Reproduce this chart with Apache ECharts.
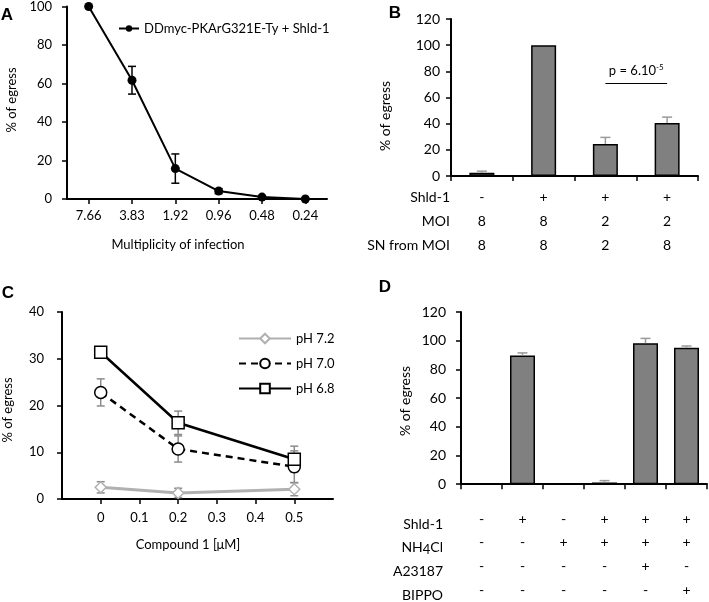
<!DOCTYPE html>
<html><head><meta charset="utf-8">
<script src="https://cdn.jsdelivr.net/npm/echarts@6/dist/echarts.min.js"></script>
<style>html,body{margin:0;padding:0;background:#fff}#c{width:709px;height:602px}</style>
</head><body><div id="c"></div>
<script>
// ---- Panel A data ----
const aCategories = ['7.66', '3.83', '1.92', '0.96', '0.48', '0.24'];
const aValues = [100, 61.7, 15.8, 4.1, 1.0, 0];
const aErrors = [0, 7.2, 7.6, 1.3, 0.6, 0];
const aYTicks = [0, 20, 40, 60, 80, 100];
const aSeriesName = 'DDmyc-PKArG321E-Ty + Shld-1';
// ---- Panel B data ----
const bCategories = ['c1', 'c2', 'c3', 'c4'];
const bValues = [2.5, 100, 24.5, 40.5];
const bErrors = [1.2, 0, 5, 4.5];
const bRowNames = ['Shld-1', 'MOI', 'SN from MOI'];
const bShld = ['-', '+', '+', '+'];
const bMOI = ['8', '8', '2', '2'];
const bSN = ['8', '8', '2', '8'];
const bPValueLevel = 71;
const bPText = ['p = 6.10', '-5'];
// ---- Panel C data ----
const cX = [0, 0.2, 0.5];
const cNames = ['pH 7.2', 'pH 7.0', 'pH 6.8'];
const cPH72 = [2.5, 1.3, 2.1];
const cPH72err = [1.2, 1.0, 1.4];
const cPH70 = [22.8, 10.7, 6.9];
const cPH70err = [2.9, 2.8, 3.4];
const cPH68 = [31.4, 16.3, 8.5];
const cPH68err = [0.4, 2.5, 2.8];
// ---- Panel D data ----
const dCategories = ['d1', 'd2', 'd3', 'd4', 'd5', 'd6'];
const dValues = [0, 89.7, 0, 1.2, 98.3, 95.1];
const dErrors = [0, 1.8, 0, 1.3, 3.3, 1.2];
const dRowNames = ['Shld-1', 'NH{s|4}Cl', 'A23187', 'BIPPO'];
const dShld = ['-', '+', '-', '+', '+', '+'];
const dNH4Cl = ['-', '-', '+', '+', '+', '+'];
const dA23187 = ['-', '-', '-', '-', '+', '-'];
const dBIPPO = ['-', '-', '-', '-', '-', '+'];

const FONT = 'Lato, "Open Sans", sans-serif';
const TXT = '#000';

function errSeries(name, xi, yi, data, color, cap, bothSides, z) {
  return {
    type: 'custom', name: name, xAxisIndex: xi, yAxisIndex: yi, z: z, silent: true,
    data: data,
    renderItem: function (params, api) {
      const x = api.value(0), v = api.value(1), e = api.value(2);
      if (!e) return null;
      const top = api.coord([x, v + e]);
      const bot = api.coord([x, bothSides ? v - e : v]);
      const st = { stroke: color, lineWidth: 1.5 };
      const ch = [
        { type: 'line', shape: { x1: top[0], y1: top[1], x2: bot[0], y2: bot[1] }, style: st },
        { type: 'line', shape: { x1: top[0] - cap, y1: top[1], x2: top[0] + cap, y2: top[1] }, style: st }
      ];
      if (bothSides) ch.push({ type: 'line', shape: { x1: bot[0] - cap, y1: bot[1], x2: bot[0] + cap, y2: bot[1] }, style: st });
      return { type: 'group', children: ch };
    }
  };
}

const axisLineBlack = { show: true, onZero: false, lineStyle: { color: '#000', width: 2 } };
const tickOut = { show: true, inside: false, length: 5, lineStyle: { color: '#000', width: 1.5 } };

const chart = echarts.init(document.getElementById('c'), null, { renderer: 'canvas' });

const option = {
  backgroundColor: '#fff',
  animation: false,
  textStyle: { fontFamily: FONT, color: TXT },
  grid: [
    { left: 67, top: 3, width: 260, height: 196 },
    { left: 451, top: 19, width: 247, height: 157 },
    { left: 62, top: 312, width: 271, height: 187 },
    { left: 461, top: 312, width: 246, height: 177 }
  ],
  xAxis: [
    { gridIndex: 0, type: 'category', data: aCategories, boundaryGap: true,
      axisLine: axisLineBlack, axisTick: Object.assign({ alignWithLabel: true, interval: 0 }, tickOut),
      axisLabel: { margin: 10, fontSize: 13, color: TXT, fontFamily: FONT, interval: 0 } },
    { gridIndex: 1, type: 'category', data: bCategories, boundaryGap: true,
      axisLine: axisLineBlack, axisTick: tickOut,
      axisLabel: { margin: 9, fontSize: 14, lineHeight: 24, verticalAlign: 'top', color: TXT, fontFamily: FONT, interval: 0,
        formatter: function (v, i) { return [bShld[i], bMOI[i], bSN[i]].join('\n'); } } },
    { gridIndex: 2, type: 'value', min: -0.1, max: 0.6, interval: 0.1,
      axisLine: axisLineBlack, axisTick: tickOut, splitLine: { show: false },
      axisLabel: { margin: 12, fontSize: 13, color: TXT, fontFamily: FONT, showMinLabel: false, showMaxLabel: false,
        formatter: function (v) { const r = Math.round(v * 10) / 10; return (r < 0 || r > 0.5) ? '' : String(r); } } },
    { gridIndex: 3, type: 'category', data: dCategories, boundaryGap: true,
      axisLine: axisLineBlack, axisTick: tickOut,
      axisLabel: { margin: 23, fontSize: 14, lineHeight: 23.7, verticalAlign: 'top', color: TXT, fontFamily: FONT, interval: 0,
        formatter: function (v, i) { return [dShld[i], dNH4Cl[i], dA23187[i], dBIPPO[i]].join('\n'); } } }
  ],
  yAxis: [
    { gridIndex: 0, type: 'value', min: aYTicks[0], max: aYTicks[aYTicks.length - 1], interval: 20,
      axisLine: axisLineBlack, axisTick: tickOut, splitLine: { show: false },
      axisLabel: { margin: 15, fontSize: 13, color: TXT, fontFamily: FONT } },
    { gridIndex: 1, type: 'value', min: 0, max: 120, interval: 20,
      axisLine: axisLineBlack, axisTick: tickOut, splitLine: { show: false },
      axisLabel: { margin: 11, fontSize: 14, color: TXT, fontFamily: FONT } },
    { gridIndex: 2, type: 'value', min: 0, max: 40, interval: 10,
      axisLine: axisLineBlack, axisTick: tickOut, splitLine: { show: false },
      axisLabel: { margin: 18, fontSize: 13, color: TXT, fontFamily: FONT } },
    { gridIndex: 3, type: 'value', min: 0, max: 120, interval: 20,
      axisLine: axisLineBlack, axisTick: tickOut, splitLine: { show: false },
      axisLabel: { margin: 15, fontSize: 14, color: TXT, fontFamily: FONT } }
  ],
  legend: [
    { data: [aSeriesName], left: 113, top: 17, itemWidth: 20, itemHeight: 8, itemGap: 4,
      textStyle: { fontSize: 13, color: TXT, fontFamily: FONT } },
    { data: cNames, orient: 'vertical', left: 233, top: 327, itemWidth: 52, itemHeight: 12, itemGap: 12,
      textStyle: { fontSize: 13, color: TXT, fontFamily: FONT } }
  ],
  series: [
    // Panel A
    errSeries('errA', 0, 0, aValues.map((v, i) => [i, v, aErrors[i]]), '#000', 4, true, 3),
    { type: 'line', name: aSeriesName, xAxisIndex: 0, yAxisIndex: 0, data: aValues, z: 4,
      symbol: 'circle', symbolSize: 9, itemStyle: { color: '#000' }, lineStyle: { color: '#000', width: 2 } },
    // Panel B
    { type: 'bar', name: 'B', xAxisIndex: 1, yAxisIndex: 1, data: bValues, barWidth: 25, z: 2,
      itemStyle: { color: '#808080', borderColor: '#000', borderWidth: 1.5 },
      markLine: { silent: true, symbol: 'none', lineStyle: { color: '#000', width: 1, type: 'solid' },
        label: { show: true, position: 'middle', distance: 4, fontFamily: FONT,
          formatter: '{a|' + bPText[0] + '}{s|' + bPText[1] + '}',
          rich: { a: { fontSize: 13, color: TXT, fontFamily: FONT }, s: { fontSize: 8, color: TXT, fontFamily: FONT, padding: [0, 0, 8, 0] } } },
        data: [[{ coord: [2, bPValueLevel] }, { coord: [3, bPValueLevel] }]] } },
    errSeries('errB', 1, 1, bValues.map((v, i) => [i, v, bErrors[i]]), '#9a9a9a', 5, false, 3),
    // Panel C
    errSeries('errC1', 2, 2, cX.map((x, i) => [x, cPH72[i], cPH72err[i]]), '#8c8c8c', 4, true, 1),
    errSeries('errC2', 2, 2, cX.map((x, i) => [x, cPH70[i], cPH70err[i]]), '#8c8c8c', 4, true, 1),
    errSeries('errC3', 2, 2, cX.map((x, i) => [x, cPH68[i], cPH68err[i]]), '#8c8c8c', 4, true, 1),
    { type: 'line', name: cNames[0], xAxisIndex: 2, yAxisIndex: 2, z: 2,
      data: cX.map((x, i) => [x, cPH72[i]]), symbol: 'diamond', symbolSize: 11,
      itemStyle: { color: '#fff', borderColor: '#b0b0b0', borderWidth: 1.5 },
      lineStyle: { color: '#b0b0b0', width: 3 } },
    { type: 'line', name: cNames[1], xAxisIndex: 2, yAxisIndex: 2, z: 3,
      data: cX.map((x, i) => [x, cPH70[i]]), symbol: 'circle', symbolSize: 12,
      itemStyle: { color: '#fff', borderColor: '#000', borderWidth: 1.5 },
      lineStyle: { color: '#000', width: 2.5, type: [7, 5] } },
    { type: 'line', name: cNames[2], xAxisIndex: 2, yAxisIndex: 2, z: 4,
      data: cX.map((x, i) => [x, cPH68[i]]), symbol: 'rect', symbolSize: 12,
      itemStyle: { color: '#fff', borderColor: '#000', borderWidth: 1.5 },
      lineStyle: { color: '#000', width: 2.5 } },
    // Panel D
    { type: 'bar', name: 'D', xAxisIndex: 3, yAxisIndex: 3, data: dValues, barWidth: 25, z: 2,
      itemStyle: { color: '#808080', borderColor: '#000', borderWidth: 1.5 } },
    errSeries('errD', 3, 3, dValues.map((v, i) => [i, v, dErrors[i]]), '#9a9a9a', 5, false, 3)
  ],
  graphic: [
    // panel letters
    { type: 'text', x: 7, y: 15, style: { text: 'A', font: 'bold 17px Arial, "Liberation Sans", sans-serif', fill: '#000', textAlign: 'center', textVerticalAlign: 'middle' } },
    { type: 'text', x: 395, y: 13, style: { text: 'B', font: 'bold 17px Arial, "Liberation Sans", sans-serif', fill: '#000', textAlign: 'center', textVerticalAlign: 'middle' } },
    { type: 'text', x: 8, y: 293, style: { text: 'C', font: 'bold 17px Arial, "Liberation Sans", sans-serif', fill: '#000', textAlign: 'center', textVerticalAlign: 'middle' } },
    { type: 'text', x: 385, y: 287, style: { text: 'D', font: 'bold 17px Arial, "Liberation Sans", sans-serif', fill: '#000', textAlign: 'center', textVerticalAlign: 'middle' } },
    // y axis names
    { type: 'text', x: 12, y: 100, rotation: Math.PI / 2, style: { text: '% of egress', font: '13px ' + FONT, fill: TXT, textAlign: 'center', textVerticalAlign: 'middle' } },
    { type: 'text', x: 385, y: 116, rotation: Math.PI / 2, style: { text: '% of egress', font: '14px ' + FONT, fill: TXT, textAlign: 'center', textVerticalAlign: 'middle' } },
    { type: 'text', x: 8, y: 410, rotation: Math.PI / 2, style: { text: '% of egress', font: '13px ' + FONT, fill: TXT, textAlign: 'center', textVerticalAlign: 'middle' } },
    { type: 'text', x: 405, y: 401, rotation: Math.PI / 2, style: { text: '% of egress', font: '14px ' + FONT, fill: TXT, textAlign: 'center', textVerticalAlign: 'middle' } },
    // x axis names
    { type: 'text', x: 178, y: 245, style: { text: 'Multiplicity of infection', font: '13px ' + FONT, fill: TXT, textAlign: 'center', textVerticalAlign: 'middle' } },
    { type: 'text', x: 188, y: 545, style: { text: 'Compound 1 [\u03bcM]', font: '13px ' + FONT, fill: TXT, textAlign: 'center', textVerticalAlign: 'middle' } },
    // row labels B
    ...bRowNames.map((t, i) => ({ type: 'text', x: 450, y: 197 + i * 24, style: { text: t, font: '14px ' + FONT, fill: TXT, textAlign: 'right', textVerticalAlign: 'middle' } })),
    // row labels D
    ...dRowNames.map((t, i) => ({ type: 'text', x: 443, y: 524 + i * 23.7, style: { text: t, font: '14px ' + FONT, fill: TXT, textAlign: 'right', textVerticalAlign: 'middle',
      rich: { s: { fontSize: 13, fontFamily: FONT, fill: TXT, padding: [5, 0, 0, 0] } } } }))
  ]
};
chart.setOption(option);
</script>
</body></html>
